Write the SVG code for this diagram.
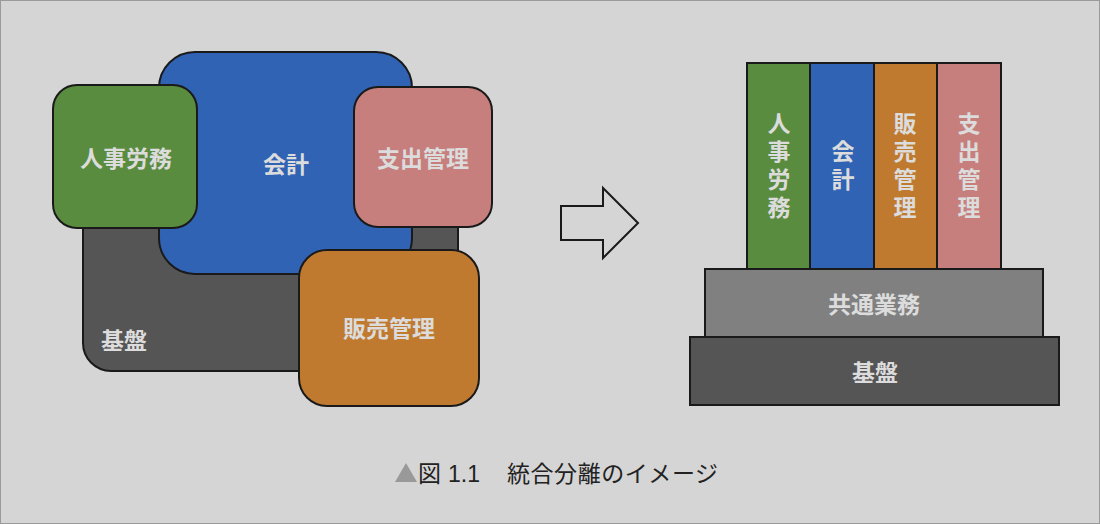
<svg xmlns="http://www.w3.org/2000/svg" width="1100" height="524" viewBox="0 0 1100 524">
<style>
.box{stroke:#1a1a1a;stroke-width:2}
.lbl{font-family:"Noto Sans CJK JP","Noto Sans",sans-serif;font-weight:bold;font-size:23px;fill:#dcdcdc;text-anchor:middle;dominant-baseline:central}
.vl{font-family:"Noto Sans CJK JP","Noto Sans",sans-serif;font-weight:bold;font-size:23px;fill:#dcdcdc;text-anchor:middle;writing-mode:vertical-rl;letter-spacing:5px}
.cap{font-family:"Noto Sans CJK JP","Noto Sans",sans-serif;font-size:23px;fill:#222}
</style>
<rect x="0.5" y="0.5" width="1099" height="523" fill="#d5d5d5" stroke="#9a9a9a" stroke-width="1"/>
<g id="left">
<g id="kiban-l"><rect class="box" x="83" y="195" width="375" height="176" rx="28" fill="#555555"/><text class="lbl" x="124" y="339">基盤</text></g>
<g id="kaikei-l"><rect class="box" x="159" y="52" width="253" height="222" rx="36" fill="#3163b5"/><text class="lbl" x="286" y="163">会計</text></g>
<g id="jinji-l"><rect class="box" x="53" y="85" width="144" height="143" rx="24" fill="#5a8c40"/><text class="lbl" x="126" y="157">人事労務</text></g>
<g id="shishutsu-l"><rect class="box" x="354" y="87" width="138" height="140" rx="24" fill="#c67f7d"/><text class="lbl" x="423" y="157">支出管理</text></g>
<g id="hanbai-l"><rect class="box" x="299" y="250" width="180" height="156" rx="28" fill="#c07a30"/><text class="lbl" x="389" y="327">販売管理</text></g>
</g>
<g id="connectors">
<polygon points="561,206 603,206 603,188 638,223 603,258 603,240 561,240" fill="none" stroke="#1a1a1a" stroke-width="2" stroke-linejoin="miter"/>
</g>
<g id="right">
<g id="jinji-r"><rect class="box" x="747" y="63" width="63" height="206" fill="#5a8c40"/>
<text class="vl" x="779" y="168">人事労務</text></g>
<g id="kaikei-r"><rect class="box" x="810" y="63" width="64" height="206" fill="#3163b5"/>
<text class="vl" x="843" y="168">会計</text></g>
<g id="hanbai-r"><rect class="box" x="874" y="63" width="63" height="206" fill="#c07a30"/>
<text class="vl" x="905" y="168">販売管理</text></g>
<g id="shishutsu-r"><rect class="box" x="937" y="63" width="64" height="206" fill="#c67f7d"/>
<text class="vl" x="969" y="168">支出管理</text></g>
<g id="kyotsu-r"><rect class="box" x="705" y="269" width="338" height="68" fill="#808080"/><text class="lbl" x="874" y="303">共通業務</text></g>
<g id="kiban-r"><rect class="box" x="690" y="337" width="369" height="68" fill="#555555"/><text class="lbl" x="875" y="371">基盤</text></g>
</g>
<g id="caption">
<polygon points="395,482 417,482 406,463" fill="#999"/>
<text class="cap" y="482"><tspan x="418">図</tspan><tspan x="448" font-family="Liberation Sans, sans-serif">1.1</tspan><tspan x="507" textLength="211" lengthAdjust="spacing">統合分離のイメージ</tspan></text>
</g>
</svg>
